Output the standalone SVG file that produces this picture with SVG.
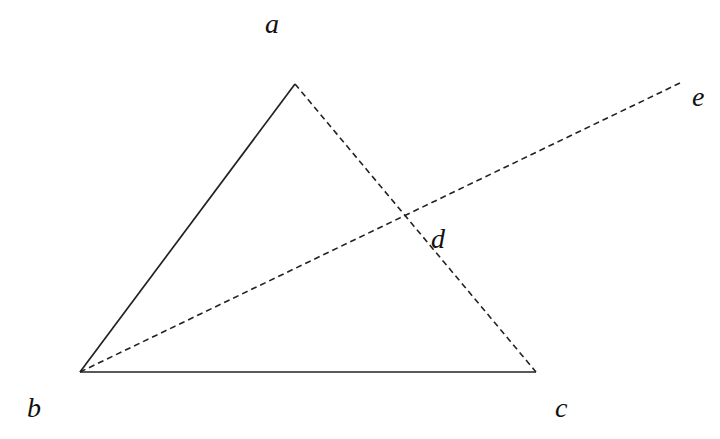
<svg xmlns="http://www.w3.org/2000/svg" width="720" height="439" viewBox="0 0 720 439">
<style>
.solid{stroke:#222;stroke-width:1.7;fill:none}
.dash{stroke:#222;stroke-width:1.6;fill:none;stroke-dasharray:6 4}
.lbl{font-family:"Liberation Serif",serif;font-style:italic;font-size:28px;fill:#111}
</style>
<rect width="720" height="439" fill="#fff"/>
<g id="connectors">
<line class="solid" x1="295" y1="84" x2="80" y2="372"/>
<line class="solid" x1="80" y1="372" x2="536" y2="372"/>
<line class="dash" x1="295" y1="84" x2="536" y2="372"/>
<line class="dash" x1="80" y1="372" x2="680" y2="83"/>
</g>
<g id="node-a"><text class="lbl" x="265" y="33">a</text></g>
<g id="node-b"><text class="lbl" x="27" y="417">b</text></g>
<g id="node-c"><text class="lbl" x="555" y="417">c</text></g>
<g id="node-d"><text class="lbl" x="431" y="248">d</text></g>
<g id="node-e"><text class="lbl" x="692" y="106">e</text></g>
</svg>
